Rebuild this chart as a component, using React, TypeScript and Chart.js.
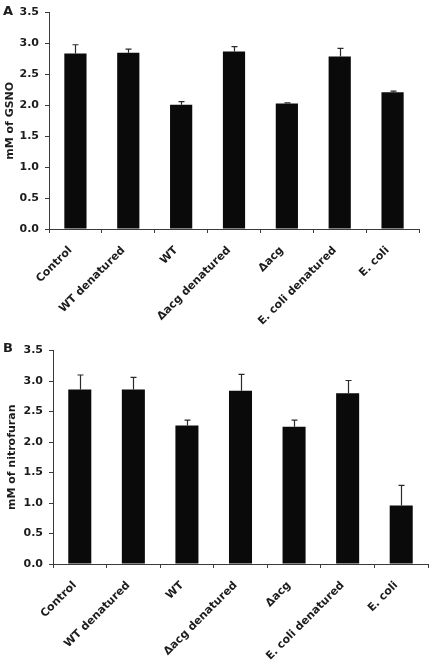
import React, { useEffect, useRef } from "react";
import { Chart, registerables } from "chart.js";

Chart.register(...registerables);

const categories = ["Control", "WT denatured", "WT", "\u0394acg denatured", "\u0394acg", "E. coli denatured", "E. coli"];
const gsnoValues = [2.84, 2.85, 2.01, 2.87, 2.03, 2.79, 2.21];
const gsnoErrors = [0.14, 0.06, 0.05, 0.08, 0.01, 0.13, 0.02];
const nitroValues = [2.86, 2.86, 2.27, 2.84, 2.25, 2.8, 0.96];
const nitroErrors = [0.24, 0.2, 0.09, 0.27, 0.11, 0.21, 0.33];
const yTickValues = [0, 0.5, 1, 1.5, 2, 2.5, 3, 3.5];

const FONT = "'DejaVu Sans', sans-serif";
const TEXT = "#1c1c1c";
const AXIS = "#3a3a3a";

const errorBarPlugin = {
  id: "errorBars",
  afterDatasetsDraw(chart: any, _args: any, opts: any) {
    const errs: number[] = opts.errors || [];
    const meta = chart.getDatasetMeta(0);
    const ys = chart.scales.y;
    const ctx = chart.ctx;
    ctx.save();
    ctx.strokeStyle = "#2a2a2a";
    ctx.lineWidth = 1.2;
    meta.data.forEach((bar: any, i: number) => {
      const v = chart.data.datasets[0].data[i];
      const yTop = ys.getPixelForValue(v + errs[i]);
      const x = Math.round(bar.x) + 0.5;
      ctx.beginPath();
      ctx.moveTo(x, bar.y);
      ctx.lineTo(x, yTop);
      ctx.moveTo(x - 3, yTop);
      ctx.lineTo(x + 3, yTop);
      ctx.stroke();
    });
    ctx.restore();
  },
};

const letterPlugin = {
  id: "panelLetter",
  afterDraw(chart: any, _args: any, opts: any) {
    const ctx = chart.ctx;
    ctx.save();
    ctx.font = `bold 13px ${FONT}`;
    ctx.fillStyle = TEXT;
    ctx.textBaseline = "alphabetic";
    ctx.textAlign = "left";
    ctx.fillText(opts.text, opts.x, opts.y);
    ctx.restore();
  },
};

function makeConfig(
  values: number[],
  errors: number[],
  title: string,
  letter: string,
  letterY: number,
  yWidth: number,
  xHeight: number,
  padTop: number,
  padRight: number,
  barPct: number,
  titlePad: number
): any {
  return {
    type: "bar",
    data: {
      labels: categories,
      datasets: [
        {
          data: values,
          backgroundColor: "#0a0a0a",
          borderWidth: 0,
          barPercentage: barPct,
          categoryPercentage: 1,
        },
      ],
    },
    plugins: [errorBarPlugin, letterPlugin],
    options: {
      animation: false,
      responsive: false,
      maintainAspectRatio: false,
      layout: { padding: { top: padTop, right: padRight, left: 0, bottom: 0 } },
      plugins: {
        legend: { display: false },
        tooltip: { enabled: false },
        errorBars: { errors },
        panelLetter: { text: letter, x: 3, y: letterY },
      },
      scales: {
        x: {
          offset: true,
          grid: { display: true, drawOnChartArea: false, drawTicks: true, tickLength: 4, color: AXIS, offset: true },
          border: { display: true, color: AXIS, width: 1 },
          ticks: {
            autoSkip: false,
            maxRotation: 45,
            minRotation: 45,
            padding: 11,
            labelOffset: -5,
            color: TEXT,
            font: { family: FONT, size: 11, weight: "bold" },
          },
          afterFit: (s: any) => {
            s.height = xHeight;
          },
        },
        y: {
          min: 0,
          max: 3.5,
          afterBuildTicks: (s: any) => {
            s.ticks = yTickValues.map((v) => ({ value: v }));
          },
          grid: { display: true, drawOnChartArea: false, drawTicks: true, tickLength: 4, color: AXIS },
          border: { display: true, color: AXIS, width: 1 },
          ticks: {
            padding: 6,
            color: TEXT,
            font: { family: FONT, size: 11, weight: "bold" },
            callback: (v: any) => Number(v).toFixed(1),
          },
          title: {
            display: true,
            text: title,
            color: TEXT,
            padding: { top: titlePad, bottom: 0 },
            font: { family: FONT, size: 11, weight: "bold" },
          },
          afterFit: (s: any) => {
            s.width = yWidth;
          },
        },
      },
    },
  };
}

function Panel(props: { cfg: any; top: number; height: number }) {
  const ref = useRef<HTMLCanvasElement | null>(null);
  useEffect(() => {
    if (!ref.current) return;
    const chart = new Chart(ref.current, props.cfg);
    return () => chart.destroy();
  }, []);
  return (
    <div style={{ position: "absolute", left: 0, top: props.top, width: 432, height: props.height }}>
      <canvas ref={ref} width={432} height={props.height} style={{ width: 432, height: props.height, display: "block" }} />
    </div>
  );
}

export default function App() {
  const cfgA = makeConfig(gsnoValues, gsnoErrors, "mM of GSNO", "A", 15, 49, 109, 10, 13, 0.42, 4);
  const cfgB = makeConfig(nitroValues, nitroErrors, "mM of nitrofuran", "B", 14, 53, 101, 9, 4, 0.43, 6);
  return (
    <div style={{ position: "absolute", left: 0, top: 0, width: 432, height: 665, background: "#fff" }}>
      <Panel cfg={cfgA} top={0} height={338} />
      <Panel cfg={cfgB} top={338} height={327} />
    </div>
  );
}
